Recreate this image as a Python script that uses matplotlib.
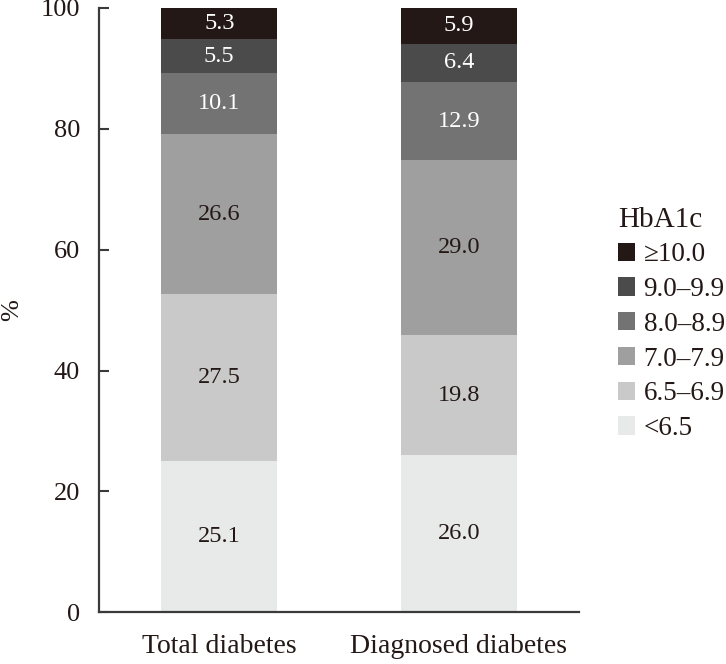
import matplotlib
matplotlib.use("Agg")
import matplotlib.pyplot as plt
from matplotlib.patches import Patch

plt.rcParams['font.family'] = ['Liberation Serif', 'DejaVu Serif']

groups = ["Total diabetes", "Diagnosed diabetes"]
levels = ["<6.5", "6.5\u20136.9", "7.0\u20137.9", "8.0\u20138.9", "9.0\u20139.9", "\u226510.0"]
values = {
    "<6.5": [25.1, 26.0],
    "6.5\u20136.9": [27.5, 19.8],
    "7.0\u20137.9": [26.6, 29.0],
    "8.0\u20138.9": [10.1, 12.9],
    "9.0\u20139.9": [5.5, 6.4],
    "\u226510.0": [5.3, 5.9],
}
colors = ["#e8e9e9", "#c9c9c9", "#9f9f9f", "#737373", "#4b4b4b", "#231815"]
text_colors = ["#231815", "#231815", "#231815", "white", "white", "white"]

fig = plt.figure(figsize=(7.26, 6.64), dpi=100)
ax = fig.add_axes([0.137, 0.078, 0.660, 0.910])

x = list(range(len(groups)))
bottoms = [0.0] * len(groups)
for lvl, c, tc in zip(levels, colors, text_colors):
    vals = values[lvl]
    bars = ax.bar(x, vals, width=0.485, bottom=bottoms, color=c, linewidth=0)
    for b, v in zip(bars, vals):
        ax.text(b.get_x() + b.get_width() / 2, b.get_y() + v / 2, f"{v:.1f}",
                ha="center", va="center", fontsize=17.5, color=tc)
    bottoms = [bt + v for bt, v in zip(bottoms, vals)]

ax.set_xlim(-0.5, 1.5)
ax.set_ylim(0, 100)
ax.set_yticks([0, 20, 40, 60, 80, 100])
ax.set_xticks(x)
ax.set_xticklabels(groups)
ax.tick_params(axis="x", length=0, pad=16, labelsize=20, colors="#231815")
ax.tick_params(axis="y", direction="in", length=7, width=1.5, pad=14,
               labelsize=19, colors="#231815")
ax.tick_params(axis="y", color="#3a3a3a")
for s in ["top", "right"]:
    ax.spines[s].set_visible(False)
for s in ["left", "bottom"]:
    ax.spines[s].set_color("#3a3a3a")
    ax.spines[s].set_linewidth(1.6)
ax.set_ylabel("%", fontsize=19, color="#231815", va="center")
ax.yaxis.set_label_coords(-0.182, 0.5)

handles = [Patch(facecolor=c, edgecolor="none") for c in colors][::-1]
leg = fig.legend(handles, levels[::-1], title="HbA1c", loc="upper left",
                 bbox_to_anchor=(0.851, 0.689), frameon=False, fontsize=19.5,
                 title_fontsize=21, handlelength=0.65, handleheight=0.65,
                 handletextpad=0.3, labelspacing=0.36, borderaxespad=0,
                 borderpad=0)
leg._legend_box.align = "left"
for t in leg.get_texts():
    t.set_color("#231815")
leg.get_title().set_color("#231815")

fig.savefig("out.png", dpi=100)
